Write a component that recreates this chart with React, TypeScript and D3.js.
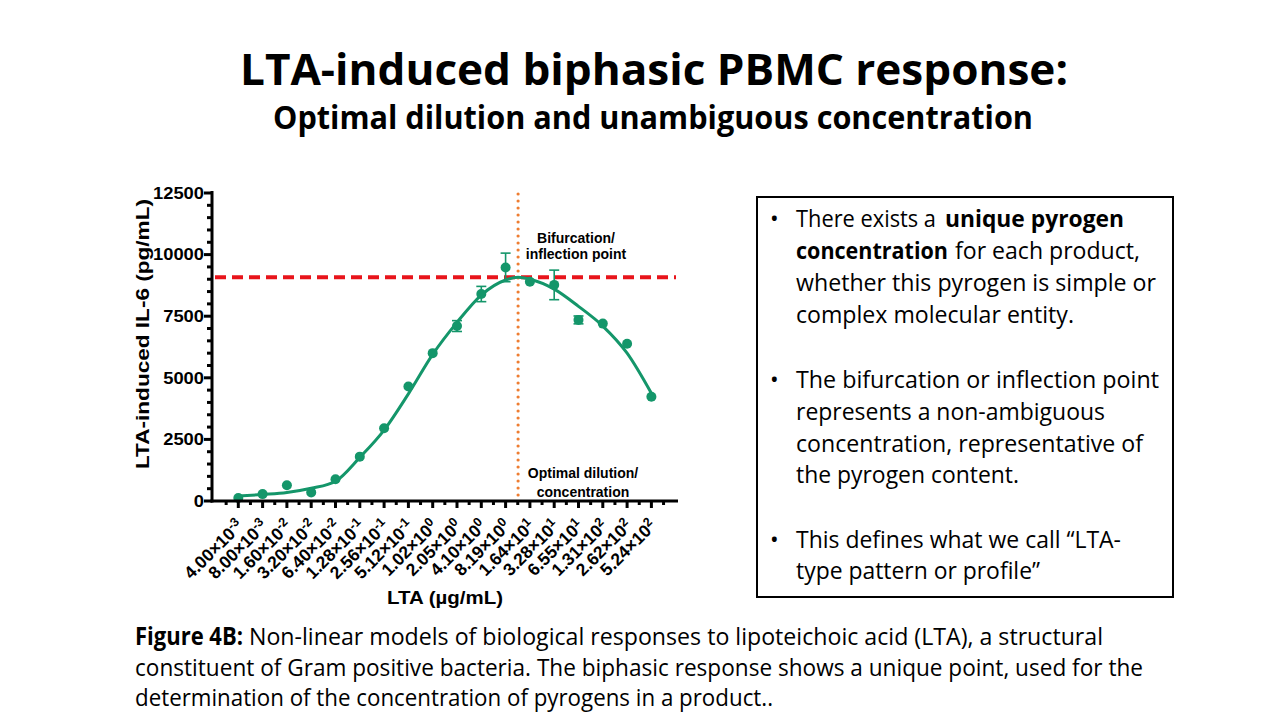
import React from "react";
import * as d3 from "d3";

// ---------- data ----------
const mantissas = ["4.00", "8.00", "1.60", "3.20", "6.40", "1.28", "2.56", "5.12", "1.02", "2.05", "4.10", "8.19", "1.64", "3.28", "6.55", "1.31", "2.62", "5.24"];
const exponents = ["-3", "-3", "-2", "-2", "-2", "-1", "-1", "-1", "0", "0", "0", "0", "1", "1", "1", "2", "2", "2"];
const concentrations = [0.004, 0.008, 0.016, 0.032, 0.064, 0.128, 0.256, 0.512, 1.024, 2.048, 4.096, 8.192, 16.384, 32.768, 65.536, 131.072, 262.144, 524.288];
const il6Mean = [120, 280, 640, 350, 880, 1800, 2950, 4650, 6000, 7100, 8400, 9480, 8900, 8770, 7350, 7200, 6380, 4230];
const il6Err = [0, 0, 0, 0, 0, 0, 0, 0, 0, 220, 310, 580, 0, 600, 160, 0, 0, 0];
const fitConc = [0.004, 0.008, 0.016, 0.032, 0.064, 0.128, 0.256, 0.512, 1.024, 2.048, 4.096, 8.192, 11.7, 16.384, 32.768, 65.536, 131.072, 262.144, 524.288];
const fitValue = [200, 265, 345, 515, 800, 1770, 2880, 4350, 5950, 7250, 8360, 8970, 9080, 9000, 8600, 7900, 7100, 6000, 4370];
const peakIL6 = 9080;
const optimalConc = 11.7;
const yMajorTicks = [0, 2500, 5000, 7500, 10000, 12500];

const titleText = "LTA-induced biphasic PBMC response:";
const subtitleText = "Optimal dilution and unambiguous concentration";
const yLabel = "LTA-induced IL-6 (pg/mL)";
const xLabel = "LTA (µg/mL)";

type Seg = { t: string; b?: boolean; x: number; len: number };
const boxLines: { y: number; segs: Seg[]; bullet?: boolean }[] = [
  { y: 227, bullet: true, segs: [{ t: "There exists a", x: 796, len: 140 }, { t: "unique pyrogen", b: true, x: 945, len: 179 }] },
  { y: 259, segs: [{ t: "concentration", b: true, x: 796, len: 152 }, { t: "for each product,", x: 955, len: 185 }] },
  { y: 291, segs: [{ t: "whether this pyrogen is simple or", x: 796, len: 360 }] },
  { y: 323, segs: [{ t: "complex molecular entity.", x: 796, len: 278 }] },
  { y: 388, bullet: true, segs: [{ t: "The bifurcation or inflection point", x: 796, len: 363 }] },
  { y: 420, segs: [{ t: "represents a non-ambiguous", x: 796, len: 309 }] },
  { y: 452, segs: [{ t: "concentration, representative of", x: 796, len: 347 }] },
  { y: 483, segs: [{ t: "the pyrogen content.", x: 796, len: 223 }] },
  { y: 548, bullet: true, segs: [{ t: "This defines what we call \u201CLTA-", x: 796, len: 325 }] },
  { y: 579, segs: [{ t: "type pattern or profile\u201D", x: 796, len: 244 }] },
];

const captionLines: { y: number; segs: Seg[] }[] = [
  { y: 645, segs: [{ t: "Figure 4B:", b: true, x: 135, len: 108 }, { t: "Non-linear models of biological responses to lipoteichoic acid (LTA), a structural", x: 249, len: 854 }] },
  { y: 676, segs: [{ t: "constituent of Gram positive bacteria. The biphasic response shows a unique point, used for the", x: 135, len: 1008 }] },
  { y: 706, segs: [{ t: "determination of the concentration of pyrogens in a product..", x: 135, len: 638 }] },
];

// ---------- styles ----------
const GREEN = "#14966a";
const RED = "#e8141b";
const ORANGE = "#ee7d31";
const CHART_FONT = "'Liberation Sans', Arial, sans-serif";
const SLIDE_FONT = "'Open Sans', 'Noto Sans', sans-serif";

export default function App() {
  const x = d3.scaleLog().domain([concentrations[0], concentrations[concentrations.length - 1]]).range([238.3, 651.4]);
  const y = d3.scaleLinear().domain([0, 12500]).range([501, 193]);

  const axisLeft = 212;
  const axisRight = 678;
  const axisBottom = y(0);

  const yMinor = d3.range(0, 12501, 500).filter((v) => v % 2500 !== 0);
  const xMinor = [concentrations[0] / Math.SQRT2, ...concentrations.map((c) => c * Math.SQRT2)];

  const line = d3
    .line<number>()
    .x((_, i) => x(fitConc[i]))
    .y((d) => y(d))
    .curve(d3.curveMonotoneX);

  return (
    <svg width={1280} height={720} style={{ position: "absolute", left: 0, top: 0, background: "#fff" }}>
      {/* Titles */}
      <text x={240} y={85} fontFamily={SLIDE_FONT} fontWeight={700} fontSize={43} textLength={828} lengthAdjust="spacingAndGlyphs" fill="#000">
        {titleText}
      </text>
      <text x={273} y={129} fontFamily={SLIDE_FONT} fontWeight={700} fontSize={31.5} textLength={760} lengthAdjust="spacingAndGlyphs" fill="#000">
        {subtitleText}
      </text>

      {/* Chart */}
      <g fontFamily={CHART_FONT} fontWeight={700} fill="#000">
        {/* Dashed red horizontal at peak */}
        <line x1={axisLeft + 3} x2={axisRight - 2} y1={y(peakIL6)} y2={y(peakIL6)} stroke={RED} strokeWidth={4} strokeDasharray="11,6" />
        {/* Dotted orange vertical at optimal concentration */}
        <line x1={x(optimalConc)} x2={x(optimalConc)} y1={194} y2={axisBottom} stroke={ORANGE} strokeWidth={3.2} strokeLinecap="round" strokeDasharray="0,7" />

        {/* Fit curve */}
        <path d={line(fitValue) || ""} fill="none" stroke={GREEN} strokeWidth={3} />

        {/* Error bars */}
        {il6Mean.map((m, i) =>
          il6Err[i] > 0 ? (
            <g key={"e" + i} stroke={GREEN} strokeWidth={1.6}>
              <line x1={x(concentrations[i])} x2={x(concentrations[i])} y1={y(m - il6Err[i])} y2={y(m + il6Err[i])} />
              <line x1={x(concentrations[i]) - 5} x2={x(concentrations[i]) + 5} y1={y(m - il6Err[i])} y2={y(m - il6Err[i])} />
              <line x1={x(concentrations[i]) - 5} x2={x(concentrations[i]) + 5} y1={y(m + il6Err[i])} y2={y(m + il6Err[i])} />
            </g>
          ) : null
        )}
        {/* Points */}
        {il6Mean.map((m, i) => (
          <circle key={"p" + i} cx={x(concentrations[i])} cy={y(m)} r={5} fill={GREEN} />
        ))}

        {/* Y axis */}
        <line x1={axisLeft} x2={axisLeft} y1={y(12500) - 2} y2={axisBottom + 1.5} stroke="#000" strokeWidth={3} />
        {yMajorTicks.map((v) => (
          <g key={"ym" + v}>
            <line x1={axisLeft - 8} x2={axisLeft} y1={y(v)} y2={y(v)} stroke="#000" strokeWidth={3} />
            <text
              x={axisLeft - 8}
              y={y(v)}
              textAnchor="end"
              dy="0.36em"
              fontSize={16}
              textLength={String(v).length * 10.2}
              lengthAdjust="spacingAndGlyphs"
            >
              {v}
            </text>
          </g>
        ))}
        {yMinor.map((v) => (
          <line key={"yn" + v} x1={axisLeft - 5} x2={axisLeft} y1={y(v)} y2={y(v)} stroke="#000" strokeWidth={3} />
        ))}
        <text transform={`translate(142,334) rotate(-90)`} textAnchor="middle" dy="0.36em" fontSize={19} textLength={270} lengthAdjust="spacingAndGlyphs">
          {yLabel}
        </text>

        {/* X axis */}
        <line x1={axisLeft - 1.5} x2={axisRight} y1={axisBottom} y2={axisBottom} stroke="#000" strokeWidth={3} />
        {concentrations.map((c) => (
          <line key={"xm" + c} x1={x(c)} x2={x(c)} y1={axisBottom} y2={axisBottom + 7} stroke="#000" strokeWidth={3} />
        ))}
        {xMinor.map((c) => (
          <line key={"xn" + c} x1={x(c)} x2={x(c)} y1={axisBottom} y2={axisBottom + 4} stroke="#000" strokeWidth={3} />
        ))}
        {concentrations.map((c, i) => (
          <text key={"xl" + c} transform={`translate(${x(c) + 6},${527}) rotate(-45)`} textAnchor="end" fontSize={17.5}>
            {mantissas[i]}×10
            <tspan dy="-0.5em" fontSize="0.72em">
              {exponents[i]}
            </tspan>
          </text>
        ))}
        <text x={445} y={604} textAnchor="middle" fontSize={18.5} textLength={116} lengthAdjust="spacingAndGlyphs">
          {xLabel}
        </text>

        {/* Annotations */}
        <text x={576} y={243} textAnchor="middle" fontSize={14}>Bifurcation/</text>
        <text x={576} y={259} textAnchor="middle" fontSize={14}>inflection point</text>
        <text x={583} y={478} textAnchor="middle" fontSize={14}>Optimal dilution/</text>
        <text x={583} y={497} textAnchor="middle" fontSize={14}>concentration</text>
      </g>

      {/* Text box */}
      <rect x={757} y={197} width={416} height={400} fill="none" stroke="#000" strokeWidth={2} />
      <g fontFamily={SLIDE_FONT} fontSize={23} fill="#000">
        {boxLines.map((ln, li) => (
          <g key={"bl" + li}>
            {ln.bullet ? (
              <text x={770} y={ln.y} fontSize={23}>
                •
              </text>
            ) : null}
            {ln.segs.map((s, si) => (
              <text key={si} x={s.x} y={ln.y} fontWeight={s.b ? 700 : 400} textLength={s.len} lengthAdjust="spacingAndGlyphs">
                {s.t}
              </text>
            ))}
          </g>
        ))}
      </g>

      {/* Caption */}
      <g fontFamily={SLIDE_FONT} fontSize={23.5} fill="#000">
        {captionLines.map((ln, li) =>
          ln.segs.map((s, si) => (
            <text key={li + "-" + si} x={s.x} y={ln.y} fontWeight={s.b ? 700 : 400} fontSize={s.b ? 25 : 23.5} textLength={s.len} lengthAdjust="spacingAndGlyphs">
              {s.t}
            </text>
          ))
        )}
      </g>
    </svg>
  );
}
